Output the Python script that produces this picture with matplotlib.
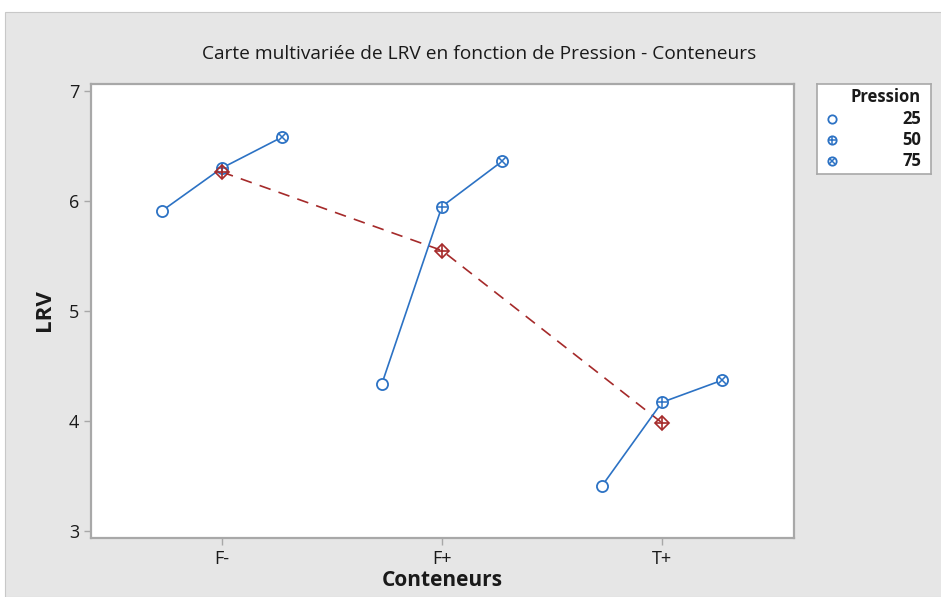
import matplotlib.pyplot as plt
import numpy as np

plt.rcParams['font.family'] = ['Open Sans', 'DejaVu Sans']

conteneurs = ['F-', 'F+', 'T+']
pressions = [25, 50, 75]
# LRV par conteneur (lignes) et pression (colonnes)
lrv = [
    [5.91, 6.30, 6.58],
    [4.34, 5.95, 6.36],
    [3.41, 4.17, 4.37],
]

BLUE = '#2c72c4'
RED = '#a52a2a'
SPINE = '#a8a8a8'

fig = plt.figure(figsize=(9.41, 5.97), dpi=100)
fig.patch.set_facecolor('white')
# fond gris de la fenetre
bg = plt.Rectangle((5 / 941, 0), 1, 1 - 12 / 597, transform=fig.transFigure,
                   facecolor='#e6e6e6', edgecolor='#c8c8c8', lw=0.8, zorder=-10)
fig.add_artist(bg)

ax = fig.add_axes([91 / 941, 1 - 538 / 597, (794 - 91) / 941, (538 - 84) / 597])
ax.set_facecolor('white')

data = np.array(lrv)
idx = np.arange(len(conteneurs))
offs = (np.array(pressions) - 50) / 25 * 0.2727


def marker(a, x, y, kind, color, size=8):
    if kind == 'D':
        a.plot(x, y, 'D', ms=size * 0.95, mfc='none', mec=color, mew=1.2, zorder=5)
        a.plot(x, y, '+', ms=size * 1.25, mec=color, mew=1.2, zorder=5)
        return
    a.plot(x, y, 'o', ms=size, mfc='white', mec=color, mew=1.3, zorder=4)
    if kind == '+':
        a.plot(x, y, '+', ms=size * 0.95, mec=color, mew=1.1, zorder=4)
    elif kind == 'x':
        a.plot(x, y, 'x', ms=size * 0.65, mec=color, mew=1.1, zorder=4)


kinds = ['o', '+', 'x']
for i in idx:
    xs = i + offs
    ax.plot(xs, data[i], color=BLUE, lw=1.2, zorder=3)
    for j, k in enumerate(kinds):
        marker(ax, xs[j], data[i, j], k, BLUE)

means = data.mean(axis=1)
ax.plot(idx, means, color=RED, lw=1.2, ls=(0, (7, 5)), zorder=2)
for i in idx:
    marker(ax, i, means[i], 'D', RED)

ax.set_xlim(-0.595, 2.6)
ax.set_ylim(3 - 7 / 110, 7 + 7 / 110)
ax.set_xticks(idx)
ax.set_xticklabels(conteneurs)
ax.set_yticks([3, 4, 5, 6, 7])
ax.tick_params(colors=SPINE, labelcolor='#1a1a1a', labelsize=13, length=5, width=1)
for s in ax.spines.values():
    s.set_color(SPINE)
    s.set_linewidth(1.6)

fig.text(0.509, 1 - 54 / 597, 'Carte multivariée de LRV en fonction de Pression - Conteneurs',
         ha='center', va='center', fontsize=13.8, color='#1a1a1a')
fig.text(45 / 941, 1 - 310 / 597, 'LRV', rotation=90, ha='center', va='center',
         fontsize=16, fontweight='bold', color='#1a1a1a')
fig.text(442 / 941, 1 - 580 / 597, 'Conteneurs', ha='center', va='center',
         fontsize=15, fontweight='bold', color='#1a1a1a')

# legende
lg = fig.add_axes([817 / 941, 1 - 174 / 597, (931 - 817) / 941, (174 - 84) / 597])
lg.set_xlim(0, 114)
lg.set_ylim(90, 0)
lg.set_xticks([])
lg.set_yticks([])
for s in lg.spines.values():
    s.set_color(SPINE)
    s.set_linewidth(1.2)
lg.text(104, 13, 'Pression', ha='right', va='center', fontsize=12, fontweight='bold', color='#1a1a1a')
for j, (p, k) in enumerate(zip(pressions, kinds)):
    y = 35 + j * 21
    marker(lg, 15, y, k, BLUE, size=6)
    lg.text(104, y, str(p), ha='right', va='center', fontsize=12, fontweight='bold', color='#1a1a1a')

fig.savefig('out.png', dpi=100)
